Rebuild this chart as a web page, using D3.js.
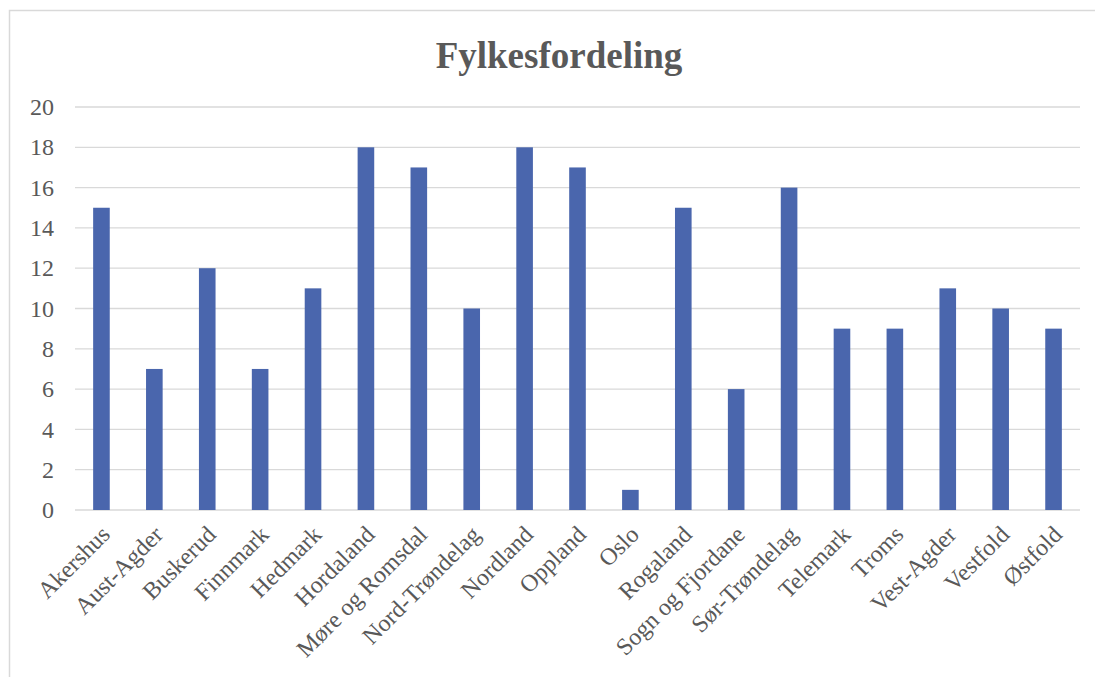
<!DOCTYPE html>
<html>
<head>
<meta charset="utf-8">
<script src="https://cdn.jsdelivr.net/npm/d3@7"></script>
<style>
  html, body { margin: 0; padding: 0; background: #fff; }
  svg { display: block; }
</style>
</head>
<body>
<script>
// County distribution
const categories = ["Akershus", "Aust-Agder", "Buskerud", "Finnmark", "Hedmark", "Hordaland",
  "Møre og Romsdal", "Nord-Trøndelag", "Nordland", "Oppland", "Oslo", "Rogaland",
  "Sogn og Fjordane", "Sør-Trøndelag", "Telemark", "Troms", "Vest-Agder", "Vestfold", "Østfold"];
const values = [15, 7, 12, 7, 11, 18, 17, 10, 18, 17, 1, 15, 6, 16, 9, 9, 11, 10, 9];
const yTicks = [0, 2, 4, 6, 8, 10, 12, 14, 16, 18, 20];
const title = "Fylkesfordeling";

const W = 1095, H = 677;
const margin = { left: 75, right: 15, top: 107, bottom: 167 };
const FONT = "'Liberation Serif', 'Times New Roman', serif";

const svg = d3.select("body").append("svg")
  .attr("width", W).attr("height", H)
  .style("font-family", FONT);

// chart frame
svg.append("rect")
  .attr("x", 9.5).attr("y", 10.5)
  .attr("width", 1100).attr("height", 700)
  .attr("fill", "#fff").attr("stroke", "#d9d9d9").attr("stroke-width", 1.5);

const x = d3.scaleBand()
  .domain(categories)
  .range([margin.left, W - margin.right])
  .paddingInner(0.686).paddingOuter(0.343);

const y = d3.scaleLinear()
  .domain([0, 20])
  .range([H - margin.bottom, margin.top]);

// gridlines
svg.append("g")
  .selectAll("line")
  .data(yTicks)
  .join("line")
  .attr("x1", margin.left).attr("x2", W - margin.right)
  .attr("y1", d => y(d)).attr("y2", d => y(d))
  .attr("stroke", "#d9d9d9").attr("stroke-width", 1.3);

// y axis labels
const yAxis = d3.axisLeft(y).tickValues(yTicks).tickSize(0).tickPadding(0);
const gy = svg.append("g")
  .attr("transform", `translate(${margin.left - 21},0)`)
  .call(yAxis);
gy.select(".domain").remove();
gy.selectAll("text")
  .attr("fill", "#595959")
  .style("font-size", "24px")
  .style("font-family", FONT);

// bars
svg.append("g")
  .selectAll("rect")
  .data(values)
  .join("rect")
  .attr("x", (d, i) => x(categories[i]))
  .attr("width", x.bandwidth())
  .attr("y", d => y(d))
  .attr("height", d => y(0) - y(d))
  .attr("fill", "#4a66ad");

// x axis labels, rotated
const xAxis = d3.axisBottom(x).tickSize(0).tickPadding(0);
const gx = svg.append("g")
  .attr("transform", `translate(0,${y(0)})`)
  .call(xAxis);
gx.select(".domain").remove();
gx.selectAll("text")
  .attr("fill", "#595959")
  .style("font-size", "24px")
  .style("font-family", FONT)
  .attr("text-anchor", "end")
  .attr("dy", null)
  .attr("y", 0)
  .attr("transform", "translate(10,26) rotate(-45)");

// title
svg.append("text")
  .attr("x", 559).attr("y", 68)
  .attr("text-anchor", "middle")
  .attr("fill", "#595959")
  .style("font-size", "37px")
  .style("font-weight", "bold")
  .text(title);
</script>
</body>
</html>
